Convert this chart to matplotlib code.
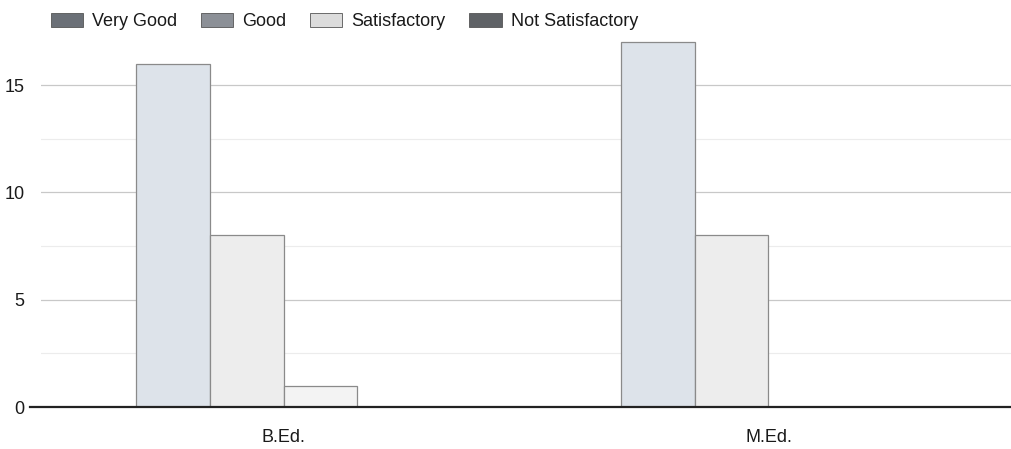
import numpy as np
import matplotlib
matplotlib.use("Agg")
import matplotlib.pyplot as plt
from matplotlib.patches import Patch

plt.rcParams['font.family'] = ['Liberation Sans', 'DejaVu Sans']

programmes = ["B.Ed.", "M.Ed."]
ratings = ["Very Good", "Good", "Satisfactory", "Not Satisfactory"]
very_good = [16, 17]
good = [8, 8]
satisfactory = [1, 0]
not_satisfactory = [0, 0]

# bars look washed out in the scan, swatches in the legend are darker
bar_colors = ["#dde3ea", "#ededed", "#f3f3f3", "#e6e6e6"]
swatch_colors = ["#6b7077", "#8c9097", "#dcdcdc", "#5f6266"]

fig = plt.figure(figsize=(10.11, 4.49), dpi=100)
ax = fig.add_axes([41 / 1011, 42 / 449, 970 / 1011, 369 / 449])

x = np.arange(len(programmes))
w = 0.152
series = [very_good, good, satisfactory, not_satisfactory]
for i, vals in enumerate(series):
    xs = x + (i - 1.5) * w
    for xx, v in zip(xs, vals):
        if v > 0:
            ax.bar(xx, v, w, color=bar_colors[i], edgecolor="#8a8a8a", linewidth=0.9, zorder=3)

ax.set_xlim(-0.5, 1.5)
ax.set_ylim(0, 17.2)

ax.set_yticks([0, 5, 10, 15])
ax.set_yticks([2.5, 7.5, 12.5], minor=True)
ax.grid(axis="y", which="major", color="#c8c8c8", linewidth=0.9, zorder=0)
ax.grid(axis="y", which="minor", color="#ececec", linewidth=0.8, zorder=0)
ax.tick_params(axis="y", which="both", length=0, pad=12, labelsize=13, labelcolor="#1a1a1a")
ax.set_xticks(x)
ax.set_xticklabels(programmes)
ax.tick_params(axis="x", length=0, pad=16, labelsize=13, labelcolor="#1a1a1a")

for s in ax.spines.values():
    s.set_visible(False)
ax.axhline(0, xmin=-0.011, xmax=1.0, color="#222222", linewidth=1.6, clip_on=False, zorder=4)

handles = [Patch(facecolor=c, edgecolor="#555555", linewidth=0.6) for c in swatch_colors]
leg = fig.legend(handles, ratings, loc="upper left", bbox_to_anchor=(38 / 1011, 1.0), ncol=4,
                 frameon=False, fontsize=13, handlelength=1.8, handleheight=0.85,
                 handletextpad=0.5, columnspacing=1.3, borderaxespad=0.3)
for t in leg.get_texts():
    t.set_color("#1a1a1a")

fig.savefig("out.png", dpi=100)
